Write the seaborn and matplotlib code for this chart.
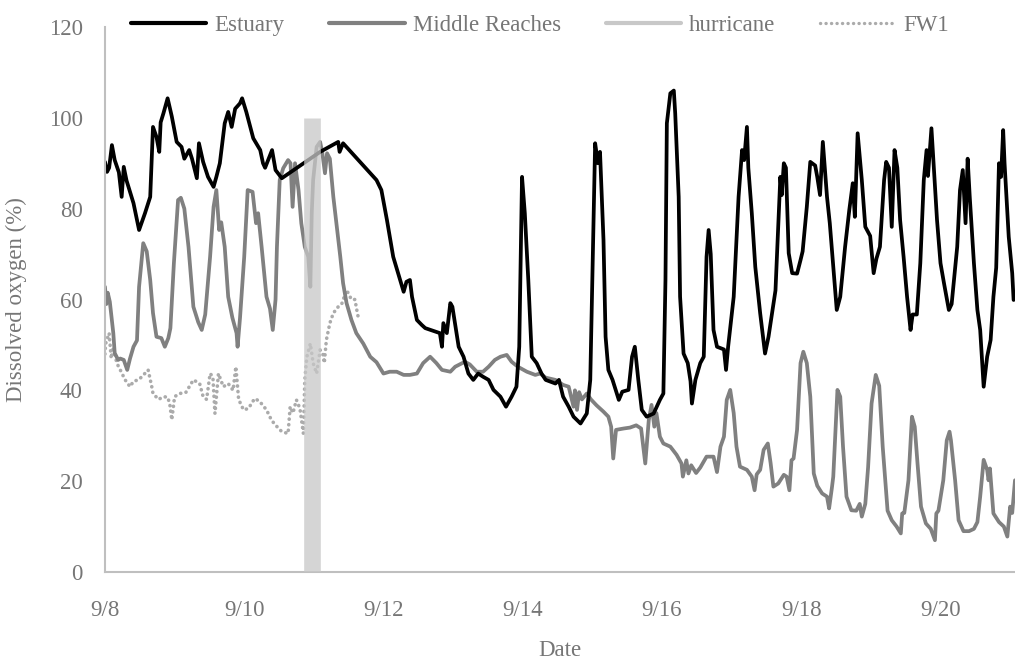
import seaborn as sns
import pandas as pd
import matplotlib.pyplot as plt
from matplotlib.lines import Line2D

# day of September (fractional) and dissolved oxygen (%)
estuary_day = [8.00, 8.03, 8.06, 8.10, 8.14, 8.20, 8.24, 8.27, 8.31, 8.41, 8.49, 8.575, 8.65, 8.69, 8.74, 8.78,
               8.80, 8.84, 8.90, 8.96, 9.03, 9.10, 9.14, 9.21, 9.25, 9.32, 9.35, 9.41, 9.48, 9.56, 9.60, 9.65,
               9.72, 9.77, 9.82, 9.87, 9.94, 9.97, 10.03, 10.13, 10.23, 10.27, 10.30, 10.40, 10.45, 10.54,
               11.09, 11.35, 11.37, 11.42, 11.90, 11.97, 12.05, 12.14, 12.24, 12.29, 12.33, 12.38, 12.41,
               12.48, 12.55, 12.60, 12.81, 12.84, 12.86, 12.91, 12.96, 12.99, 13.08, 13.15, 13.22, 13.29,
               13.36, 13.43, 13.51, 13.58, 13.68, 13.76, 13.84, 13.91, 13.95, 13.99, 14.03, 14.08, 14.13,
               14.20, 14.27, 14.33, 14.47, 14.52, 14.58, 14.66, 14.73, 14.83, 14.92, 14.97, 15.01, 15.04,
               15.08, 15.11, 15.16, 15.19, 15.23, 15.29, 15.38, 15.43, 15.52, 15.57, 15.61, 15.66, 15.71,
               15.78, 15.88, 15.97, 16.02, 16.05, 16.07, 16.12, 16.17, 16.19, 16.24, 16.26, 16.31, 16.37,
               16.41, 16.43, 16.48, 16.55, 16.60, 16.64, 16.67, 16.70, 16.74, 16.79, 16.89, 16.92, 16.95,
               17.03, 17.10, 17.15, 17.18, 17.22, 17.24, 17.29, 17.34, 17.41, 17.48, 17.53, 17.63, 17.70,
               17.72, 17.75, 17.78, 17.82, 17.87, 17.94, 17.99, 18.02, 18.08, 18.13, 18.20, 18.23, 18.27,
               18.31, 18.37, 18.41, 18.46, 18.51, 18.56, 18.63, 18.69, 18.74, 18.77, 18.81, 18.87, 18.92,
               18.99, 19.04, 19.08, 19.13, 19.19, 19.22, 19.26, 19.30, 19.34, 19.38, 19.42, 19.47, 19.52,
               19.57, 19.60, 19.66, 19.71, 19.76, 19.80, 19.82, 19.87, 19.90, 19.95, 20.00, 20.05, 20.12,
               20.16, 20.24, 20.28, 20.32, 20.36, 20.39, 20.42, 20.48, 20.53, 20.57, 20.62, 20.67, 20.72,
               20.76, 20.80, 20.84, 20.87, 20.90, 20.92, 20.98, 21.03, 21.05]
estuary_do = [90.3, 88.1, 89, 94, 90.7, 88, 82.6, 89.2, 86.2, 81.2, 75.3, 79, 82.6, 98, 95.8, 92.5,
              99, 101, 104.3, 100.3, 94.7, 93.6, 91, 92.9, 91, 86.7, 94.4, 90.3, 87, 84.8, 87, 90,
              98.8, 101.3, 98, 102, 103.2, 104.3, 101.3, 95.5, 92.9, 90, 89, 92.9, 88.5, 86.7,
              92.5, 94.7, 92.5, 94.4, 86.3, 84.1, 77.5, 69.4, 64.3, 61.7, 63.9, 64.3, 60.6,
              55.5, 54.4, 53.7, 52.6, 49.6, 54.8, 52.6, 59.2, 58.4, 49.6, 47.4, 43.7, 42.3,
              43.7, 43, 42.3, 40.1, 38.6, 36.4, 38.6, 40.8, 49.6, 87.0, 79, 64.3, 47.4,
              46, 43.7, 42.3, 41.5, 42.3, 38.6, 36.4, 34.2, 32.7, 34.9, 42.3, 71.6, 94.4,
              90, 92.5, 73.1, 51.8, 44.5, 42.3, 37.9, 39.7, 40.1, 47.4, 49.6, 42.3, 35.7,
              34.2, 34.9, 37.9, 39.3, 64.3, 98.8, 105.4, 106, 101, 82.6, 60.6, 48.1, 46,
              42, 37.1, 42.3, 46, 47.4, 69.4, 75.3, 70, 53.3, 49.6, 49, 44.5, 49.6,
              60.6, 82.6, 92.9, 90.7, 98, 89, 79, 67.2, 57, 48.1, 51.8, 62, 87,
              83, 90, 89, 70.2, 65.8, 65.7, 68.7, 70.6, 80.4, 90.3, 89.5, 87, 83,
              94.7, 82.6, 76.8, 67.2, 57.7, 60.6, 71.6, 79.7, 85.6, 78.2, 96.6, 86.3, 76,
              74, 65.8, 69, 71.6, 86.3, 90.3, 89, 76, 92.9, 89, 77.5, 69.4, 60.6,
              53.3, 56.7, 56.7, 68, 86.3, 92.9, 87.2, 97.7, 90, 77.5, 68, 63.6, 57.7,
              59, 71.6, 84.1, 88.5, 76.8, 91, 82.6, 68, 57.7, 53.3, 40.8, 47.4, 51.1,
              60.6, 67, 90, 87, 97.3, 90, 73.8, 65.8, 59.9]

middle_day = [8.00, 8.02, 8.04, 8.07, 8.12, 8.14, 8.19, 8.22, 8.27, 8.32, 8.36, 8.41, 8.46, 8.49, 8.55,
              8.60, 8.65, 8.69, 8.74, 8.81, 8.86, 8.91, 8.94, 8.99, 9.05, 9.09, 9.14, 9.20, 9.27, 9.34,
              9.39, 9.44, 9.51, 9.56, 9.60, 9.64, 9.67, 9.72, 9.77, 9.83, 9.89, 9.905, 9.94, 10.00,
              10.05, 10.12, 10.17, 10.20, 10.25, 10.32, 10.37, 10.41, 10.45, 10.47, 10.51, 10.56, 10.63,
              10.665, 10.695, 10.73, 10.78, 10.82, 10.87, 10.92, 10.95, 10.97, 10.99, 11.04, 11.09, 11.12,
              11.16, 11.19, 11.23, 11.28, 11.33, 11.38, 11.42, 11.47, 11.54, 11.61, 11.71, 11.81, 11.90,
              12.00, 12.09, 12.19, 12.29, 12.38, 12.48, 12.57, 12.67, 12.76, 12.84, 12.96, 13.03, 13.17,
              13.24, 13.34, 13.43, 13.51, 13.60, 13.68, 13.77, 13.84, 13.93, 14.06, 14.18, 14.25, 14.33,
              14.47, 14.58, 14.66, 14.73, 14.75, 14.78, 14.81, 14.85, 14.92, 14.98, 15.06, 15.16, 15.23,
              15.27, 15.30, 15.34, 15.45, 15.54, 15.63, 15.70, 15.76, 15.81, 15.85, 15.89, 15.92, 15.97,
              16.02, 16.12, 16.21, 16.28, 16.30, 16.35, 16.38, 16.42, 16.49, 16.55, 16.64, 16.74, 16.79,
              16.84, 16.89, 16.93, 16.98, 17.03, 17.07, 17.12, 17.22, 17.29, 17.33, 17.36, 17.41, 17.46,
              17.52, 17.56, 17.60, 17.67, 17.75, 17.79, 17.83, 17.86, 17.89, 17.94, 17.99, 18.03, 18.08,
              18.13, 18.18, 18.23, 18.30, 18.37, 18.40, 18.44, 18.46, 18.52, 18.56, 18.60, 18.65, 18.72,
              18.79, 18.84, 18.87, 18.92, 18.96, 19.01, 19.07, 19.12, 19.17, 19.24, 19.30, 19.37, 19.43,
              19.45, 19.48, 19.54, 19.59, 19.63, 19.67, 19.72, 19.79, 19.86, 19.92, 19.94, 19.97, 20.04,
              20.09, 20.13, 20.15, 20.21, 20.26, 20.33, 20.41, 20.48, 20.53, 20.57, 20.62, 20.67, 20.69,
              20.71, 20.76, 20.84, 20.91, 20.96, 21.00, 21.03, 21.07]
middle_do = [62.8, 59, 61.5, 59.5, 52.6, 48.2, 46.7, 47, 46.7, 44.5, 47, 49.6, 51, 62.8, 72.4,
             70.6, 64.3, 57, 51.8, 51.5, 49.6, 51.5, 53.7, 68, 81.9, 82.4, 80, 71.6, 58.4, 55,
             53.3, 56.7, 69.4, 80.4, 84.1, 75.3, 77, 71.6, 60.6, 56, 52.6, 49.6, 56, 69.4,
             84.1, 83.7, 76.8, 79, 71.6, 60.6, 58, 53.3, 60, 71.6, 86.3, 88.9, 90.7,
             90, 80.4, 90, 84.1, 76.8, 71.6, 69.4, 62.8, 79, 86.3, 93.6, 94.7, 92.5,
             87.8, 92.2, 91, 82.6, 76, 69.4, 63.6, 59.2, 55.5, 52.6, 50.3, 47.4, 46.2,
             43.7, 44.1, 44.1, 43.4, 43.4, 43.7, 46, 47.4, 46, 44.5, 44.1, 45.2, 46.3,
             45.7, 44.1, 44.1, 45.2, 46.7, 47.4, 47.8, 46.3, 45.2, 44.1, 43.4, 43.7, 42.8,
             42.3, 41.2, 40.8, 36.4, 40, 35.7, 39.6, 38, 39.3, 38, 36.7, 35.3, 34.2,
             32, 25, 31.3, 31.6, 31.8, 32.3, 31.6, 23.9, 33.4, 36.8, 32, 35, 29.8,
             28.3, 27.6, 25.8, 23.9, 21, 24.6, 21.7, 23.5, 21.8, 23, 25.4, 25.4, 22,
             27.6, 29.8, 37.9, 40.1, 35, 27.6, 23.2, 22.5, 21, 18, 21.5, 22.5, 26.9,
             28.3, 24, 18.8, 19.5, 21.4, 21, 18, 24.6, 25, 31.3, 46, 48.5, 46,
             38.6, 21.7, 19, 17.3, 16.6, 14, 18.5, 21, 40.1, 38.6, 27.6, 16.6, 13.6,
             13.5, 15, 12.2, 15, 23, 37.1, 43.4, 41, 27.6, 13.5, 11.4, 10, 8.5,
             12.9, 13, 20.2, 34.2, 32, 23.9, 14.4, 10.7, 9.5, 7, 12.9, 13.5, 20.2,
             29, 30.9, 29, 20.2, 11.4, 9, 9, 9.5, 11, 16.6, 24.7, 22.5, 20.2,
             22.8, 12.9, 11, 10, 7.8, 14.4, 13, 20.2]

fw1_day = [8.00, 8.01, 8.06, 8.09, 8.12, 8.17, 8.22, 8.29, 8.36, 8.41, 8.48, 8.53, 8.62, 8.67, 8.69,
           8.77, 8.84, 8.90, 8.93, 8.96, 9.00, 9.07, 9.16, 9.27, 9.36, 9.41, 9.46, 9.51, 9.55, 9.58,
           9.63, 9.70, 9.77, 9.84, 9.88, 9.92, 9.99, 10.06, 10.15, 10.22, 10.32, 10.39, 10.44, 10.54,
           10.63, 10.66, 10.70, 10.75, 10.80, 10.85, 10.87, 10.90, 10.95, 10.99, 11.04, 11.09, 11.13,
           11.15, 11.18, 11.23, 11.28, 11.35, 11.40, 11.47, 11.54, 11.59, 11.63, 11.65]
fw1_do = [48, 50.3, 52.6, 47, 49.6, 46, 44.5, 42.3, 40.8, 42, 42.3, 43, 44.5, 41, 39.3,
          38, 38.6, 38.5, 37.1, 33.5, 38.6, 39.3, 39.5, 42.3, 41.5, 38.6, 38, 43.7, 43, 34.9,
          43.7, 40.8, 41.5, 40, 45.2, 38, 35.7, 36, 38.2, 37.6, 35.7, 33.5, 32.5, 30.9,
          30.5, 36.4, 35, 37.9, 36, 30.5, 42.3, 47.4, 50.3, 46, 43.7, 48.9, 48,
          46, 51.1, 54.8, 57, 58.4, 59, 62.1, 60, 60, 56.6, 55.5]

hurricane_day = [10.975, 10.975]
hurricane_do = [0, 100]

tick_days = [8, 10, 12, 14, 16, 18, 20]
tick_labels = ["9/8", "9/10", "9/12", "9/14", "9/16", "9/18", "9/20"]

estuary = pd.DataFrame({"day": estuary_day, "DO": estuary_do})
middle = pd.DataFrame({"day": middle_day, "DO": middle_do})
fw1 = pd.DataFrame({"day": fw1_day, "DO": fw1_do})
hurricane = pd.DataFrame({"day": hurricane_day, "DO": hurricane_do})

sns.set_style("white")
plt.rcParams["font.family"] = ["Liberation Serif", "DejaVu Serif"]
txt = "#767676"

fig = plt.figure(figsize=(10.15, 6.6), dpi=100)
ax = fig.add_axes([0.1034, 0.1333, 0.8966, 0.8258])

sns.lineplot(data=fw1, x="day", y="DO", ax=ax, color="#ababab", lw=2.6,
             linestyle=(0, (0.05, 1.5)), dash_capstyle="round", sort=False, estimator=None)
sns.lineplot(data=middle, x="day", y="DO", ax=ax, color="#808080", lw=2.7, sort=False, estimator=None)
sns.lineplot(data=estuary, x="day", y="DO", ax=ax, color="black", lw=2.7, sort=False, estimator=None)
# hurricane shown as a very wide translucent vertical line
sns.lineplot(data=hurricane, x="day", y="DO", ax=ax, color="#c8c8c8", lw=12, alpha=0.75,
             solid_capstyle="butt", sort=False, estimator=None, zorder=5)

ax.set_xlim(8, 21.07)
ax.set_ylim(0, 120)
ax.set_yticks(range(0, 121, 20))
ax.set_xticks(tick_days)
ax.set_xticklabels(tick_labels)
ax.tick_params(axis="both", length=0, labelsize=16.5, labelcolor=txt)
ax.tick_params(axis="y", pad=16)
ax.tick_params(axis="x", pad=20)
for s in ["top", "right"]:
    ax.spines[s].set_visible(False)
for s in ["left", "bottom"]:
    ax.spines[s].set_color("#bfbfbf")
    ax.spines[s].set_linewidth(1.5)

ax.set_xlabel("Date", fontsize=16.5, color=txt, labelpad=14)
ax.set_ylabel("Dissolved oxygen (%)", fontsize=16.5, color=txt, labelpad=16)

handles = [Line2D([], [], color="black", lw=3),
           Line2D([], [], color="#808080", lw=3),
           Line2D([], [], color="#c8c8c8", lw=3),
           Line2D([], [], color="#ababab", lw=2.4, linestyle=(0, (0.05, 1.6)), dash_capstyle="round")]
fig.legend(handles, ["Estuary", "Middle Reaches", "hurricane", "FW1"], loc="center",
           bbox_to_anchor=(0.532, 0.962), ncol=4, frameon=False, fontsize=16.5,
           labelcolor=txt, handlelength=3.3, handletextpad=0.35, columnspacing=1.95)

fig.savefig("out.png", dpi=100)
